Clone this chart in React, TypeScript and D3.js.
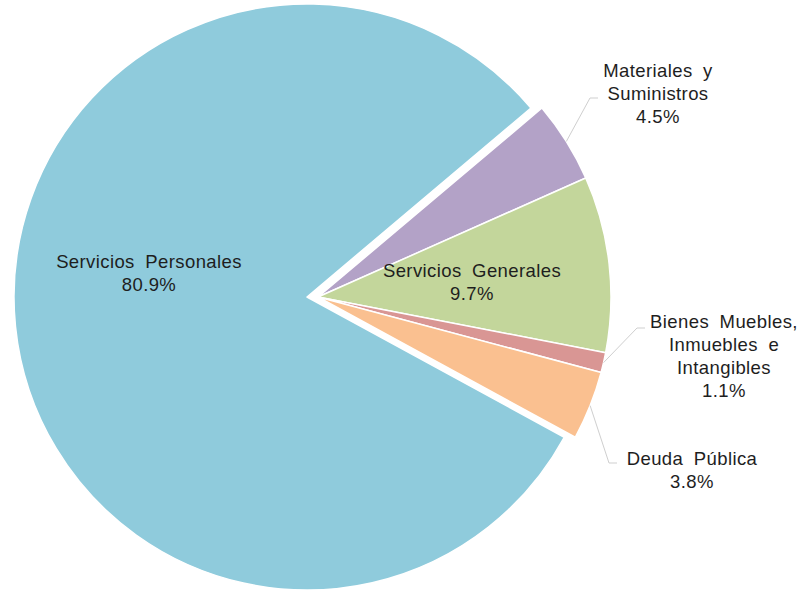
import React from "react";
import * as d3 from "d3";

const categories = [
  "Servicios Personales",
  "Materiales y Suministros",
  "Servicios Generales",
  "Bienes Muebles, Inmuebles e Intangibles",
  "Deuda Pública",
];
const values = [80.9, 4.5, 9.7, 1.1, 3.8];
const labelLines = [
  ["Servicios Personales"],
  ["Materiales y", "Suministros"],
  ["Servicios Generales"],
  ["Bienes Muebles,", "Inmuebles e", "Intangibles"],
  ["Deuda Pública"],
];
const colors = ["#8FCBDC", "#B3A2C7", "#C3D69B", "#D99694", "#FAC090"];

// layout (not data)
const W = 809;
const H = 591;
const R = 293;
const START_DEG = -241.4;
const sliceOrigins = [
  [307, 297],
  [318, 297],
  [318, 297],
  [318, 297],
  [318, 297],
];
// label anchor: [x, first baseline y]
const labelPos = [
  [149, 268],
  [658, 77],
  [472, 277],
  [724, 328],
  [692, 465],
];
// leader dash end points (null = no leader)
const leaderEnds: (number[] | null)[] = [null, [598, 98], null, [645, 328], [617, 463]];

export default function App() {
  const pie = d3
    .pie<number>()
    .sort(null)
    .value((d) => d)
    .startAngle((START_DEG * Math.PI) / 180)
    .endAngle((START_DEG * Math.PI) / 180 + 2 * Math.PI);
  const arcs = pie(values);
  const arcGen = d3.arc<d3.PieArcDatum<number>>().innerRadius(0).outerRadius(R);
  const lineH = 23;

  return (
    <svg
      width={W}
      height={H}
      style={{ position: "absolute", left: 0, top: 0, background: "#fff" }}
      fontFamily="'Liberation Sans', Arial, sans-serif"
    >
      {arcs.map((a, i) => (
        <path
          key={categories[i]}
          d={arcGen(a) || ""}
          transform={`translate(${sliceOrigins[i][0]},${sliceOrigins[i][1]})`}
          fill={colors[i]}
          stroke="#fff"
          strokeWidth={1.5}
          strokeLinejoin="round"
        />
      ))}
      {arcs.map((a, i) => {
        const end = leaderEnds[i];
        if (!end) return null;
        const mid = (a.startAngle + a.endAngle) / 2;
        const px = sliceOrigins[i][0] + R * Math.sin(mid);
        const py = sliceOrigins[i][1] - R * Math.cos(mid);
        return (
          <polyline
            key={"l" + i}
            points={`${px},${py} ${end[0] - 8},${end[1]} ${end[0]},${end[1]}`}
            fill="none"
            stroke="#cfcfcf"
            strokeWidth={1}
          />
        );
      })}
      {values.map((v, i) => {
        const lines = [...labelLines[i], `${v.toFixed(1)}%`];
        return (
          <text
            key={"t" + i}
            textAnchor="middle"
            fontSize={18.5}
            fill="#1e1e1e"
            letterSpacing={0.4}
            wordSpacing={5}
          >
            {lines.map((ln, j) => (
              <tspan key={j} x={labelPos[i][0]} y={labelPos[i][1] + j * lineH}>
                {ln}
              </tspan>
            ))}
          </text>
        );
      })}
    </svg>
  );
}
